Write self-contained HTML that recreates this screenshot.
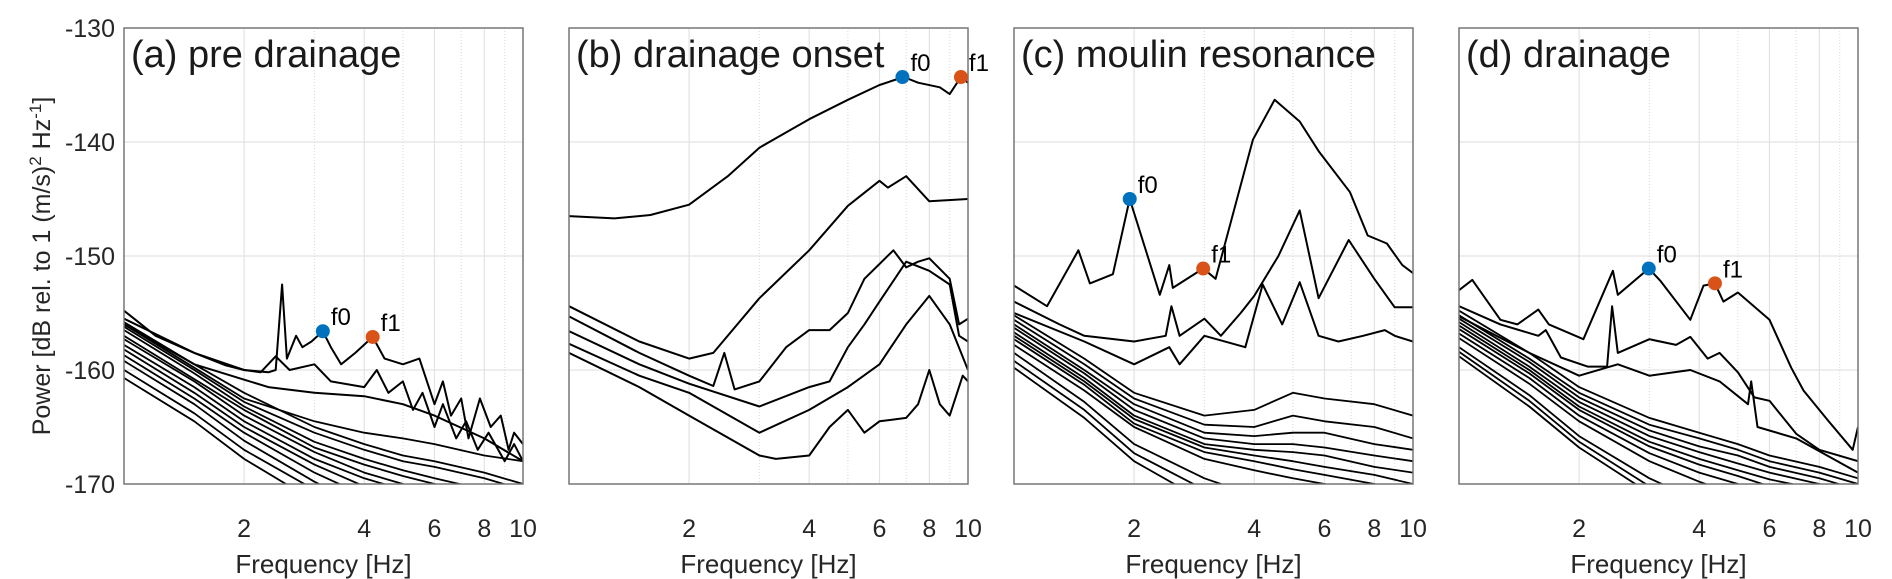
<!DOCTYPE html>
<html><head><meta charset="utf-8"><style>
html,body{margin:0;padding:0;background:#fff;}
svg{display:block;font-family:"Liberation Sans",sans-serif;}
</style></head><body>
<svg id="chart" width="1892" height="579" viewBox="0 0 1892 579" xmlns="http://www.w3.org/2000/svg">
<text transform="translate(50,266) rotate(-90)" text-anchor="middle" font-size="25" fill="#262626">Power [dB rel. to 1 (m/s)<tspan dy="-9" font-size="17">2</tspan><tspan dy="9"> Hz</tspan><tspan dy="-9" font-size="17">-1</tspan><tspan dy="9">]</tspan></text>
</svg>
<script>
// ---- data ----
const panelTitles = ["(a) pre drainage","(b) drainage onset","(c) moulin resonance","(d) drainage"];
const yTicks = [-130,-140,-150,-160,-170];
const xTicks = [2,4,6,8,10];
const xMinor = [3,5,7,9];
const bgFreqs = [1,1.5,2,3,4,5,6,8,10];

// panel a
const aTopF = [1,1.2,1.5,1.8,2.0,2.3,2.4,2.49,2.56,2.7,2.8,2.95,3.15,3.3,3.5,3.8,4.2,4.5,5,5.5,6,6.3,6.6,7,7.3,7.8,8.3,8.8,9.2,9.5,10];
const aTopV = [-154.8,-157,-158.5,-159.6,-160,-160.2,-160,-152.5,-159,-157,-158,-157.5,-156.6,-158,-159.5,-158.5,-157.1,-159,-159.5,-159,-163,-161,-164,-162.5,-166,-162.5,-165,-164,-167,-165.5,-166.5];
const a2F = [1,1.5,2,2.2,2.4,2.6,3,3.3,4,4.3,4.6,5,5.3,5.6,6,6.3,6.8,7.2,7.7,8.2,9,9.5,10];
const a2V = [-155.5,-158.5,-160,-160.2,-158.8,-160,-159.5,-161,-161.5,-160,-162,-161,-163.5,-162,-165,-163,-166,-164.5,-167,-165.5,-168,-166.5,-168];
const a3F = [1,1.5,2.3,3,4,5,6,8,10];
const a3V = [-156,-159.5,-161.5,-162,-162.3,-163,-164,-166,-168];
const aBg = [
[-156,-159.8,-162.5,-164.5,-165.5,-166,-166.5,-167.5,-168],
[-155.8,-159.5,-162,-165,-166.5,-167.5,-168,-169,-170],
[-156.2,-160,-162.8,-165.5,-167,-168,-168.5,-169.5,-170.5],
[-156.5,-160.3,-163.2,-166.3,-167.8,-168.8,-169.5,-170.5,-171],
[-157,-160.8,-163.5,-166.8,-168.3,-169.3,-170,-171,-172],
[-157.3,-161,-164,-167.2,-169,-170,-171,-172,-173],
[-157.8,-161.5,-164.5,-167.8,-169.5,-170.5,-171.5,-172,-173],
[-158.2,-162,-165,-168.3,-170.2,-171,-172,-173,-174],
[-158.7,-162.5,-165.5,-169,-171,-172,-173,-174,-175],
[-159.2,-163,-166.2,-169.8,-172,-173,-174,-175,-176],
[-160,-163.8,-167,-170.5,-172.5,-174,-175,-176,-177],
[-160.7,-164.5,-167.8,-171.5,-173.5,-175,-176,-177,-178]];
const aF0 = [3.15,-156.6], aF1 = [4.2,-157.1];

// panel b
const bTopF = [1,1.3,1.6,2,2.5,3,4,5,6,6.9,7.5,8.5,9,9.6,10];
const bTopV = [-146.5,-146.7,-146.4,-145.5,-143,-140.5,-138,-136.3,-135,-134.3,-134.8,-135.2,-135.8,-134.3,-134.8];
const b2F = [1,1.5,2,2.3,3,4,5,6,6.3,7,8,10];
const b2V = [-154.4,-157.5,-159,-158.5,-153.7,-149.5,-145.6,-143.4,-144,-143,-145.2,-145];
const b3F = [1,1.5,2,2.3,2.45,2.6,3,3.5,4,4.5,5,5.5,6,6.5,7,7.5,8,9,9.5,10];
const b3V = [-155.3,-158.5,-160.5,-161.4,-158.5,-161.7,-161,-158,-156.5,-156.5,-155,-152,-150.7,-149.5,-151,-150.5,-150.2,-152,-156,-155.5];
const b4F = [1,1.5,2,3,4,4.5,5,5.5,6,7,8,9,9.5,10];
const b4V = [-156.6,-159.5,-161.2,-163.2,-161.5,-161,-158,-156,-154,-150.5,-151.3,-152.5,-157,-157.5];
const b5F = [1,1.5,2,3,4,5,6,7,8,9,10];
const b5V = [-157.7,-160.5,-162,-165.5,-163.5,-161.5,-159.5,-156,-153.5,-156,-160];
const b6F = [1,1.5,2,3,3.3,4,4.5,5,5.5,6,7,7.5,8,8.5,9,9.7,10];
const b6V = [-158.5,-161.5,-164,-167.5,-167.8,-167.5,-165,-163.5,-165.5,-164.5,-164.2,-163,-160,-163,-164,-160.5,-161];
const bF0 = [6.85,-134.3], bF1 = [9.6,-134.3];

// panel c
const cTopF = [1,1.21,1.45,1.55,1.77,1.95,2.32,2.45,2.5,2.98,3.2,3.97,4.5,5.2,5.8,6.95,7.7,8.6,9.4,10];
const cTopV = [-152.6,-154.4,-149.5,-152.4,-151.6,-145,-153.4,-150.8,-152.8,-151.1,-152,-139.8,-136.3,-138.2,-140.8,-144.4,-148.2,-148.9,-150.8,-151.5];
const c2F = [1,1.3,1.5,2,2.4,2.48,2.6,3,3.3,3.7,4,4.6,5.2,5.8,6.9,8,9,10];
const c2V = [-154,-156,-157,-157.5,-157,-154.4,-157,-155.5,-157,-155,-153.5,-150,-146,-153.7,-148.6,-152,-154.5,-154.5];
const c3F = [1,1.5,2,2.45,2.6,3,3.8,4.2,4.7,5.2,5.8,6.5,7.5,8.5,9,10];
const c3V = [-155,-157.5,-159.5,-158,-159.5,-157,-158,-152.5,-156,-152.3,-157,-157.5,-157,-156.5,-157,-157.5];
const cBg = [
[-155.2,-159,-162,-164,-163.5,-162,-162.5,-163,-164],
[-155.6,-159.5,-162.5,-164.8,-165,-164,-164.5,-165,-166],
[-156,-160,-163,-165.5,-165.8,-165.5,-165.5,-166.5,-167],
[-156.3,-160.3,-163.5,-166,-166.5,-166.5,-166.8,-167.5,-168],
[-156.7,-160.7,-164,-166.5,-167,-167.2,-167.5,-168.5,-169],
[-157,-161,-164.3,-166.8,-167.5,-168,-168.5,-169.2,-170],
[-157.3,-161.3,-164.7,-167.2,-168,-168.7,-169.2,-170,-171],
[-157.8,-161.8,-165,-167.8,-168.8,-169.5,-170,-171,-172],
[-158.5,-162.8,-166.5,-169.5,-171,-172,-173,-174,-175],
[-159.2,-163.5,-167.3,-170.5,-172,-173,-174,-175,-176],
[-159.8,-164.2,-168,-171.5,-173,-174,-175,-176,-177]];
const cF0 = [1.95,-145], cF1 = [2.98,-151.1];

// panel d
const dTopF = [1,1.08,1.27,1.4,1.58,1.68,2.05,2.43,2.5,2.99,3.2,3.8,4.1,4.38,4.6,5.0,6.0,6.8,7.3,8.4,9.7,10];
const dTopV = [-153,-152.1,-155.6,-156,-154.7,-156,-157.3,-151.3,-153.4,-151.1,-152.2,-155.6,-152.6,-152.4,-154,-153.2,-155.6,-159.8,-161.8,-164.4,-167,-165];
const d2F = [1,1.27,1.58,1.65,1.8,2.1,2.35,2.42,2.5,3,3.5,3.8,4.2,4.5,5,5.5,6,7,8,10];
const d2V = [-154.4,-156,-157,-156.5,-158.9,-159.7,-159.7,-154.4,-158.5,-157.3,-157.8,-157.1,-159,-158.5,-160.2,-162.4,-162.7,-165.6,-167,-168];
const d3F = [1,1.5,2,2.5,3,3.8,4.5,5.3,5.4,5.6,7,10];
const d3V = [-155.3,-158.5,-160.5,-159.5,-160.5,-160,-161,-163,-161,-165,-166,-169];
const dBg = [
[-154.8,-158.5,-161.5,-164.2,-165.5,-166.5,-167.5,-168.5,-169.5],
[-155.2,-159,-162,-164.8,-166,-167,-168,-169,-170],
[-155.5,-159.3,-162.4,-165.3,-166.7,-167.5,-168.5,-169.5,-170.5],
[-155.8,-159.7,-162.8,-165.8,-167.2,-168.2,-169,-170,-171],
[-156.1,-160,-163.2,-166.3,-167.8,-168.8,-169.6,-170.5,-171.5],
[-156.4,-160.3,-163.5,-166.7,-168.3,-169.3,-170.2,-171,-172],
[-156.8,-160.7,-164,-167.3,-169,-170,-171,-172,-173],
[-157.2,-161.2,-164.5,-168,-169.8,-171,-172,-173,-174],
[-158,-162.2,-165.8,-169.5,-171.5,-173,-174,-175,-176],
[-158.4,-162.7,-166.3,-170.2,-172.2,-173.5,-174.5,-175.5,-176.5],
[-158.8,-163.2,-166.8,-170.8,-173,-174,-175,-176,-177]];
const dF0 = [2.99,-151.1], dF1 = [4.38,-152.4];

// ---- layout ----
const NS = "http://www.w3.org/2000/svg";
const svg = document.getElementById('chart');
const PX0 = 124, PW = 399, PITCH = 445, PT = 28, PB = 484;
const yMin = -170, yMax = -130;
function yS(v){ return PT + (yMax - v) / (yMax - yMin) * (PB - PT); }
function xS(p, f){ return PX0 + p*PITCH + Math.log10(f) * PW; }
function mk(tag, attrs, parent){ const e = document.createElementNS(NS, tag); for (const k in attrs) e.setAttribute(k, attrs[k]); (parent||svg).appendChild(e); return e; }

const panels = [
 {lines:[[aTopF,aTopV],[a2F,a2V],[a3F,a3V]], bg:aBg, f0:aF0, f1:aF1},
 {lines:[[bTopF,bTopV],[b2F,b2V],[b3F,b3V],[b4F,b4V],[b5F,b5V],[b6F,b6V]], bg:[], f0:bF0, f1:bF1},
 {lines:[[cTopF,cTopV],[c2F,c2V],[c3F,c3V]], bg:cBg, f0:cF0, f1:cF1},
 {lines:[[dTopF,dTopV],[d2F,d2V],[d3F,d3V]], bg:dBg, f0:dF0, f1:dF1}
];

const defs = mk('defs', {});
panels.forEach((P, p) => {
  const x0 = PX0 + p*PITCH;
  const g = mk('g', {});
  
  
  const cp = mk('clipPath', {id:'clip'+p}, defs);
  mk('rect', {x:x0, y:PT, width:PW, height:PB-PT}, cp);
  yTicks.slice(1,4).forEach(t => {
    const l = mk('line', {x1:x0, x2:x0+PW, y1:yS(t), y2:yS(t), stroke:'#e3e3e3', 'stroke-width':1.2}, g);
    
    
  });
  xTicks.slice(0,4).forEach(t => {
    const l = mk('line', {x1:xS(p,t), x2:xS(p,t), y1:PT, y2:PB, stroke:'#e3e3e3', 'stroke-width':1.2}, g);
    
    
  });
  xMinor.forEach(t => {
    const l = mk('line', {x1:xS(p,t), x2:xS(p,t), y1:PT, y2:PB, stroke:'#d8d8d8', 'stroke-width':1, 'stroke-dasharray':'1,2'}, g);
    
    
  });
  const sg = mk('g', {'clip-path':'url(#clip'+p+')'}, g);
  P.bg.forEach((vals, i) => {
    const d = bgFreqs.map((f, k) => (k ? 'L' : 'M') + xS(p,f).toFixed(1) + ',' + yS(vals[k]).toFixed(1)).join('');
    const path = mk('path', {d:d, fill:'none', stroke:'#000', 'stroke-width':1.8, 'stroke-linejoin':'round'}, sg);
    
    
  });
  P.lines.forEach((L, i) => {
    const d = L[0].map((f, k) => (k ? 'L' : 'M') + xS(p,f).toFixed(1) + ',' + yS(L[1][k]).toFixed(1)).join('');
    const path = mk('path', {d:d, fill:'none', stroke:'#000', 'stroke-width':2, 'stroke-linejoin':'round'}, sg);
    
    
  });
  const fr = mk('rect', {x:x0, y:PT, width:PW, height:PB-PT, fill:'none', stroke:'#777', 'stroke-width':1.5}, g);
  
  
  [[P.f0,'#0072BD','f0'],[P.f1,'#D95319','f1']].forEach(m => {
    const cx = xS(p, m[0][0]), cy = yS(m[0][1]);
    const c = mk('circle', {cx:cx, cy:cy, r:7, fill:m[1]}, g);
    
    
    const t = mk('text', {x:cx+8, y:cy-6, 'font-size':24, fill:'#000'}, g);
    t.textContent = m[2];
    
    
  });
  const tt = mk('text', {x:x0+7, y:67, 'font-size':38, fill:'#1a1a1a'}, g);
  tt.textContent = panelTitles[p];
  
  
  xTicks.forEach(t => {
    const tl = mk('text', {x:xS(p,t), y:537, 'font-size':25, 'text-anchor':'middle', fill:'#262626'}, g);
    tl.textContent = String(t);
    
    
  });
  const xl = mk('text', {x:x0+PW/2, y:573, 'font-size':26, 'text-anchor':'middle', fill:'#262626'}, g);
  xl.textContent = 'Frequency [Hz]';
  
  
  if (p === 0) {
    yTicks.forEach(t => {
      const yl = mk('text', {x:115, y:yS(t)+9, 'font-size':25, 'text-anchor':'end', fill:'#262626'}, g);
      yl.textContent = String(t);
      
      
    });
  }
});
</script>
</body></html>
